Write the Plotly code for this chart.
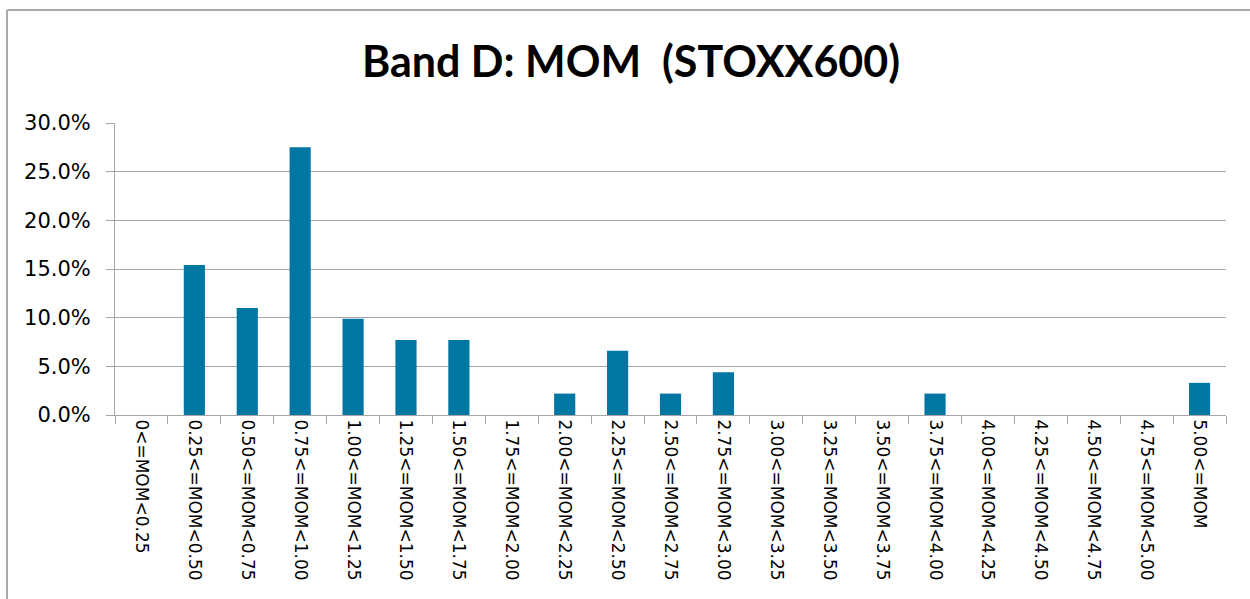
import plotly.graph_objects as go

categories = ["0<=MOM<0.25", "0.25<=MOM<0.50", "0.50<=MOM<0.75", "0.75<=MOM<1.00",
              "1.00<=MOM<1.25", "1.25<=MOM<1.50", "1.50<=MOM<1.75", "1.75<=MOM<2.00",
              "2.00<=MOM<2.25", "2.25<=MOM<2.50", "2.50<=MOM<2.75", "2.75<=MOM<3.00",
              "3.00<=MOM<3.25", "3.25<=MOM<3.50", "3.50<=MOM<3.75", "3.75<=MOM<4.00",
              "4.00<=MOM<4.25", "4.25<=MOM<4.50", "4.50<=MOM<4.75", "4.75<=MOM<5.00",
              "5.00<=MOM"]
values = [0.0, 0.154, 0.110, 0.275, 0.099, 0.077, 0.077, 0.0, 0.022, 0.066, 0.022,
          0.044, 0.0, 0.0, 0.0, 0.022, 0.0, 0.0, 0.0, 0.0, 0.033]

title_text = "Band D: MOM  (STOXX600)"
bar_color = "rgb(0,118,163)"
grid_color = "rgb(166,166,166)"

fig = go.Figure(go.Bar(x=categories, y=values, marker=dict(color=bar_color, line=dict(width=0))))

W, H = 1250, 599
ml, mr, mt, mb = 115, 24, 123, 184
pw, ph = W - ml - mr, H - mt - mb

def px_x(v):
    return (v - ml) / pw

def px_y(v):
    return (H - mb - v) / ph

fig.update_layout(
    width=W, height=H,
    margin=dict(l=ml, r=mr, t=mt, b=mb, pad=0),
    paper_bgcolor="white", plot_bgcolor="white",
    bargap=0.6,
    showlegend=False,
    title=dict(text="<b>" + title_text + "</b>", x=631 / W, xanchor="center",
               y=1 - 62 / H, yanchor="middle", xref="container", yref="container",
               font=dict(family="Lato", size=43, color="black")),
    font=dict(family="DejaVu Sans", color="black"),
    xaxis=dict(type="category", tickangle=90, tickfont=dict(size=17, family="DejaVu Sans"),
               showline=True, linecolor=grid_color, linewidth=1,
               ticks="outside", ticklen=8, tickcolor=grid_color, tickson="boundaries",
               showgrid=False, automargin=False),
    yaxis=dict(range=[0, 0.30], dtick=0.05, tickformat=".1%",
               tickfont=dict(size=21, family="DejaVu Sans"),
               showline=True, linecolor=grid_color, linewidth=1,
               ticks="outside", ticklen=8, tickcolor=grid_color,
               showgrid=True, gridcolor=grid_color, gridwidth=1,
               zeroline=False, ticklabelstandoff=11, automargin=False),
    shapes=[
        dict(type="line", xref="paper", yref="paper", x0=px_x(7), x1=px_x(7),
             y0=px_y(10), y1=px_y(H + 5), line=dict(color="rgb(170,170,170)", width=2)),
        dict(type="line", xref="paper", yref="paper", x0=px_x(7), x1=px_x(W + 5),
             y0=px_y(10), y1=px_y(10), line=dict(color="rgb(170,170,170)", width=2)),
    ],
)

fig.write_html("out.html", config={"displayModeBar": False},
               post_script="document.body.style.margin='0px';")
